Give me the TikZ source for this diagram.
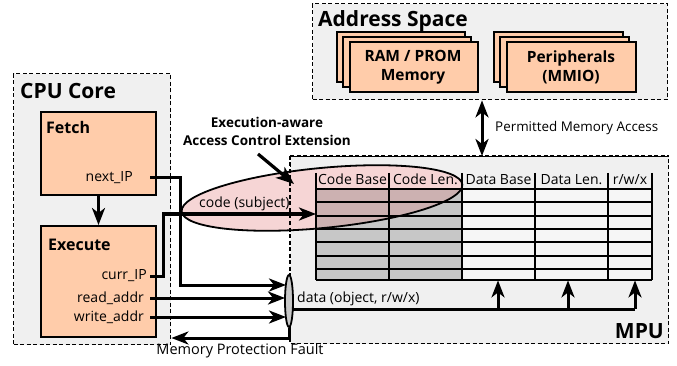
\documentclass[tikz,border=0pt]{standalone}
\usepackage{fontspec}
\setmainfont{Open Sans}
\usetikzlibrary{arrows.meta,shapes.geometric}
\definecolor{peach}{RGB}{255,204,170}
\definecolor{bggray}{RGB}{240,240,240}
\definecolor{cellwhite}{RGB}{246,246,246}
\definecolor{pinkfill}{RGB}{246,213,213}
\definecolor{muxgray}{RGB}{200,200,200}
\tikzset{
  container/.style={draw, dashed, dash pattern=on 4pt off 2.5pt, line width=1.4pt, fill=bggray, inner sep=0pt, anchor=north west},
  unitbox/.style={draw, line width=2pt, fill=peach, inner sep=0pt, anchor=north west},
  bigtip/.tip={Stealth[length=17pt,width=13pt,inset=5pt]},
  tip/.style={-bigtip},
  wire/.style={line width=3pt, tip},
  plainwire/.style={line width=3pt},
  lbl/.style={font=\fontsize{14}{16}\selectfont, inner sep=1pt},
  hdr/.style={font=\fontsize{14}{16}\selectfont, inner sep=0pt},
  bigtitle/.style={font=\fontsize{21}{24}\selectfont\bfseries, inner sep=0pt},
  unittitle/.style={font=\fontsize{16}{18}\selectfont\bfseries, inner sep=0pt},
  extshape/.style={ellipse, minimum width=282pt, minimum height=60pt, inner sep=0pt, rotate=5.5},
}
\begin{document}
\begin{tikzpicture}[x=1pt,y=-1pt]
\useasboundingbox (0,0) rectangle (677,366);
% containers
\node[container, minimum width=157pt, minimum height=271pt] (cpu) at (13,73) {};
\node[bigtitle, anchor=west] (cputitle) at (20,91) {CPU Core};
\node[container, minimum width=378pt, minimum height=187pt] (mpu) at (290,156) {};
\node[container, minimum width=355pt, minimum height=96pt] (as) at (312,3) {};
\node[bigtitle, anchor=west] (astitle) at (318,21) {Address Space};
% CPU units
\node[unitbox, minimum width=115pt, minimum height=83pt] (fetch) at (40,111) {};
\node[unittitle, anchor=west] (fetcht) at (46,128) {Fetch};
\node[lbl, anchor=east] (nextip) at (134,178) {next\_IP};
\node[unitbox, minimum width=115pt, minimum height=111pt] (exec) at (40,225) {};
\node[unittitle, anchor=west] (exect) at (48,245) {Execute};
\node[lbl, anchor=east] (currip) at (148,276) {curr\_IP};
\node[lbl, anchor=east] (readaddr) at (145,298) {read\_addr};
\node[lbl, anchor=east] (writeaddr) at (145,317) {write\_addr};
\draw[wire] (fetch.south) -- (exec.north);
% Address space stacks
\foreach \dx/\dy in {-13/-10,-7/-5,0/0}{
  \draw[line width=1.5pt, fill=peach] (350+\dx,42+\dy) rectangle ++(128,50);
  \draw[line width=1.5pt, fill=peach] (507+\dx,42+\dy) rectangle ++(129,50);
}
\node[font=\fontsize{15.5}{19}\selectfont\bfseries, align=center] (ram) at (413,67) {RAM / PROM\\Memory};
\node[font=\fontsize{15.5}{19}\selectfont\bfseries, align=center] (periph) at (571,67) {Peripherals\\(MMIO)};
\draw[line width=3pt, bigtip-bigtip] (as.south -| 482,0) -- (mpu.north -| 482,0);
\node[font=\fontsize{13.4}{16}\selectfont, inner sep=1pt, anchor=west] (perm) at (494,128) {Permitted Memory Access};
% extension ellipse fill (behind table)
\node[extshape, fill=pinkfill] (extfill) at (322,198) {};
\draw[dashed, dash pattern=on 4pt off 2.5pt, line width=1.4pt] (mpu.north west) -- (mpu.south west);
\draw[dashed, dash pattern=on 4pt off 2.5pt, line width=1.4pt] (mpu.north west) -- (mpu.north east);
% table
\node[inner sep=0pt, minimum width=336pt, minimum height=107pt, anchor=north west] (table) at (316,173) {};
\fill[black, fill opacity=0.17] (316,189) rectangle (462,280);
\fill[cellwhite] (462,189) rectangle (652,280);
\foreach \y in {189,202,216,229,242,256,269,280}{
  \draw[line width=2pt] (316,\y) -- (652,\y);
}
\foreach \x in {316,389,462,535,608,652}{
  \draw[line width=2pt] (\x,173) -- (\x,280);
}
\node[hdr, anchor=base] at (352.5,185) {Code Base};
\node[hdr, anchor=base] at (425.5,185) {Code Len.};
\node[hdr, anchor=base] at (498.5,185) {Data Base};
\node[hdr, anchor=base] at (571.5,185) {Data Len.};
\node[hdr, anchor=base] at (630,185) {r/w/x};
% extension ellipse outline
\node[extshape, draw, line width=1.8pt] (ext) at (322,198) {};
\node[font=\fontsize{13.5}{18}\selectfont\bfseries, align=center] (extlbl) at (267,131) {Execution-aware\\Access Control Extension};
\coordinate (extfrom) at (258,154);
\coordinate (extto) at (294,184);
\draw[line width=3.2pt, -{Stealth[length=18pt,width=14pt,inset=5pt]}] (extfrom) -- (extto);
\node[lbl, anchor=south west] (codesub) at (198,212) {code (subject)};
% mux
\node[ellipse, draw, line width=1.8pt, fill=muxgray, minimum width=8pt, minimum height=52pt, inner sep=0pt] (mux) at (289,301) {};
% wires
\draw[wire] (nextip.east -| 150,0) -- (180,178) -- (180,285) -- (286,285);
\draw[wire] (currip.east -| 150,0) -- (163,276) -- (163,214) -- (table.west |- 0,214);
\draw[wire] (readaddr.east -| 150,0) -- (285,298);
\draw[wire] (writeaddr.east -| 150,0) -- (286,317);
\draw[wire] (mux.south) -- (289,338) -- (cpu.east |- 0,338);
\node[font=\fontsize{14.5}{17}\selectfont, inner sep=1pt, anchor=north] (fault) at (240,342) {Memory Protection Fault};
% data
\coordinate (d1) at (498,309);
\coordinate (d2) at (568,309);
\coordinate (d3) at (635,309);
\draw[plainwire] (293,309) -- (d3);
\draw[wire] (d1) -- (d1 |- table.south);
\draw[wire] (d2) -- (d2 |- table.south);
\draw[wire] (d3) -- (d3 |- table.south);
\node[lbl, anchor=south west] (datalbl) at (296,307) {data (object, r/w/x)};
\node[bigtitle, anchor=south east] (mputitle) at (664,339) {MPU};
\end{tikzpicture}
\end{document}
